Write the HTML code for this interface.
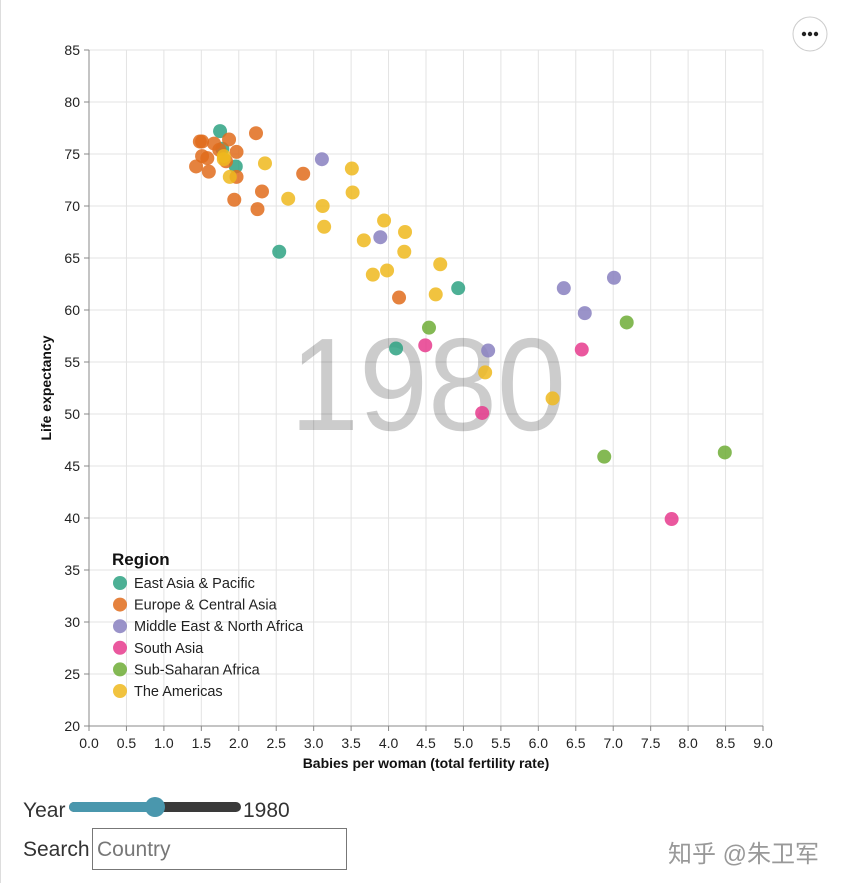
<!DOCTYPE html>
<html><head><meta charset="utf-8"><style>
body{margin:0;width:847px;height:883px;background:#fff;font-family:"Liberation Sans","Noto Sans CJK SC",sans-serif;overflow:hidden;position:relative}
.lbl{position:absolute;font-size:21px;color:#333}
</style></head><body>
<div style="position:absolute;left:0;top:0;width:1px;height:883px;background:#ddd"></div>
<svg id="chart" width="847" height="790" style="position:absolute;left:0;top:0" font-family="Liberation Sans, sans-serif"></svg>
<div class="lbl" style="left:23px;top:799px">Year</div>
<div style="position:absolute;left:69px;top:802px;width:172px;height:10px;border-radius:5px;background:#3a3a3a">
 <div style="width:88px;height:10px;border-radius:5px;background:#4a97ad"></div>
 <div style="position:absolute;left:76px;top:-5px;width:20px;height:20px;border-radius:10px;background:#4a97ad"></div>
</div>
<div class="lbl" style="left:243px;top:799px">1980</div>
<div class="lbl" style="left:23px;top:838px">Search</div>
<div style="position:absolute;left:92px;top:828px;width:255px;height:42px;border:1px solid #777;box-sizing:border-box;font-size:21px;color:#777;padding:9px 4px">Country</div>
<div style="position:absolute;left:668px;top:834px;font-size:24px;color:#999">知乎 @朱卫军</div>
<script>
const regions=["East Asia & Pacific","Europe & Central Asia","Middle East & North Africa","South Asia","Sub-Saharan Africa","The Americas"];
const colors=["#2ea283","#e06c1c","#8880c0","#e63b8d","#6fad36","#efb81d"];
const xTicks=[0,0.5,1,1.5,2,2.5,3,3.5,4,4.5,5,5.5,6,6.5,7,7.5,8,8.5,9];
const yTicks=[20,25,30,35,40,45,50,55,60,65,70,75,80,85];
const fertility=[1.75,1.78,1.96,2.54,4.10,4.93,
1.48,1.51,1.43,1.60,1.67,1.87,2.23,1.97,1.97,1.94,2.31,2.25,2.86,4.14,1.51,1.83,1.74,1.58,
3.11,3.89,5.33,6.34,6.62,7.01,
4.49,5.25,6.58,7.78,
4.54,7.18,6.88,8.49,
2.35,2.66,3.12,3.14,3.51,3.52,3.67,3.79,3.94,3.98,4.22,4.21,4.69,4.63,5.29,6.19,1.88,1.80,1.80];
const lifeExp=[77.2,75.5,73.8,65.6,56.3,62.1,
76.2,74.8,73.8,73.3,76.0,76.4,77.0,75.2,72.8,70.6,71.4,69.7,73.1,61.2,76.2,74.3,75.4,74.6,
74.5,67.0,56.1,62.1,59.7,63.1,
56.6,50.1,56.2,39.9,
58.3,58.8,45.9,46.3,
74.1,70.7,70.0,68.0,73.6,71.3,66.7,63.4,68.6,63.8,67.5,65.6,64.4,61.5,54.0,51.5,72.8,74.5,74.8];
const regionIdx=[0,0,0,0,0,0,1,1,1,1,1,1,1,1,1,1,1,1,1,1,1,1,1,1,2,2,2,2,2,2,3,3,3,3,4,4,4,4,5,5,5,5,5,5,5,5,5,5,5,5,5,5,5,5,5,5,5];
const yearText="1980";
const L=89,R=763,T=50,B=726;
const xs=v=>L+(v-0)/9*(R-L), ys=v=>B-(v-20)/65*(B-T);
const svg=document.getElementById('chart');const NS="http://www.w3.org/2000/svg";
function mk(t,a,p){const e=document.createElementNS(NS,t);for(const k in a)e.setAttribute(k,a[k]);(p||svg).appendChild(e);return e;}
xTicks.forEach(t=>{const g=mk('line',{x1:xs(t),x2:xs(t),y1:T,y2:B,stroke:'#e3e3e3'});

const k=mk('line',{x1:xs(t),x2:xs(t),y1:B,y2:B+5,stroke:'#888'});

const tx=mk('text',{x:xs(t),y:B+22,'text-anchor':'middle','font-size':14,fill:'#222'});tx.textContent=t.toFixed(1);
});
yTicks.forEach(t=>{const g=mk('line',{x1:L,x2:R,y1:ys(t),y2:ys(t),stroke:'#e3e3e3'});

const k=mk('line',{x1:L-5,x2:L,y1:ys(t),y2:ys(t),stroke:'#888'});

const tx=mk('text',{x:L-9,y:ys(t)+5,'text-anchor':'end','font-size':14,fill:'#222'});tx.textContent=t;
});
let a=mk('line',{x1:L,x2:R,y1:B,y2:B,stroke:'#888'});
a=mk('line',{x1:L,x2:L,y1:T,y2:B,stroke:'#888'});
let t=mk('text',{x:(L+R)/2,y:B+42,'text-anchor':'middle','font-size':14,'font-weight':'bold',fill:'#111'});t.textContent='Babies per woman (total fertility rate)';

t=mk('text',{x:0,y:0,transform:`translate(51,${(T+B)/2}) rotate(-90)`,'text-anchor':'middle','font-size':14,'font-weight':'bold',fill:'#111'});t.textContent='Life expectancy';

t=mk('text',{x:428,y:430,'text-anchor':'middle','font-size':132,fill:'#000','fill-opacity':0.2,textLength:276,lengthAdjust:'spacingAndGlyphs'});t.textContent=yearText;

fertility.forEach((f,i)=>{const c=mk('circle',{cx:xs(f),cy:ys(lifeExp[i]),r:7,fill:colors[regionIdx[i]],'fill-opacity':0.85});
});
t=mk('text',{x:112,y:565,'font-size':17,'font-weight':'bold',fill:'#111'});t.textContent='Region';

regions.forEach((r,i)=>{const y=583+i*21.6;
const c=mk('circle',{cx:120,cy:y,r:7,fill:colors[i],'fill-opacity':0.85});
const tx=mk('text',{x:134,y:y+5,'font-size':14.5,fill:'#222'});tx.textContent=r;});
const btn=mk('circle',{cx:810,cy:34,r:17,fill:'#fff',stroke:'#ccc'});
[-6,0,6].forEach(d=>{const c=mk('circle',{cx:810+d,cy:34,r:2.2,fill:'#222'});});
</script>
</body></html>
